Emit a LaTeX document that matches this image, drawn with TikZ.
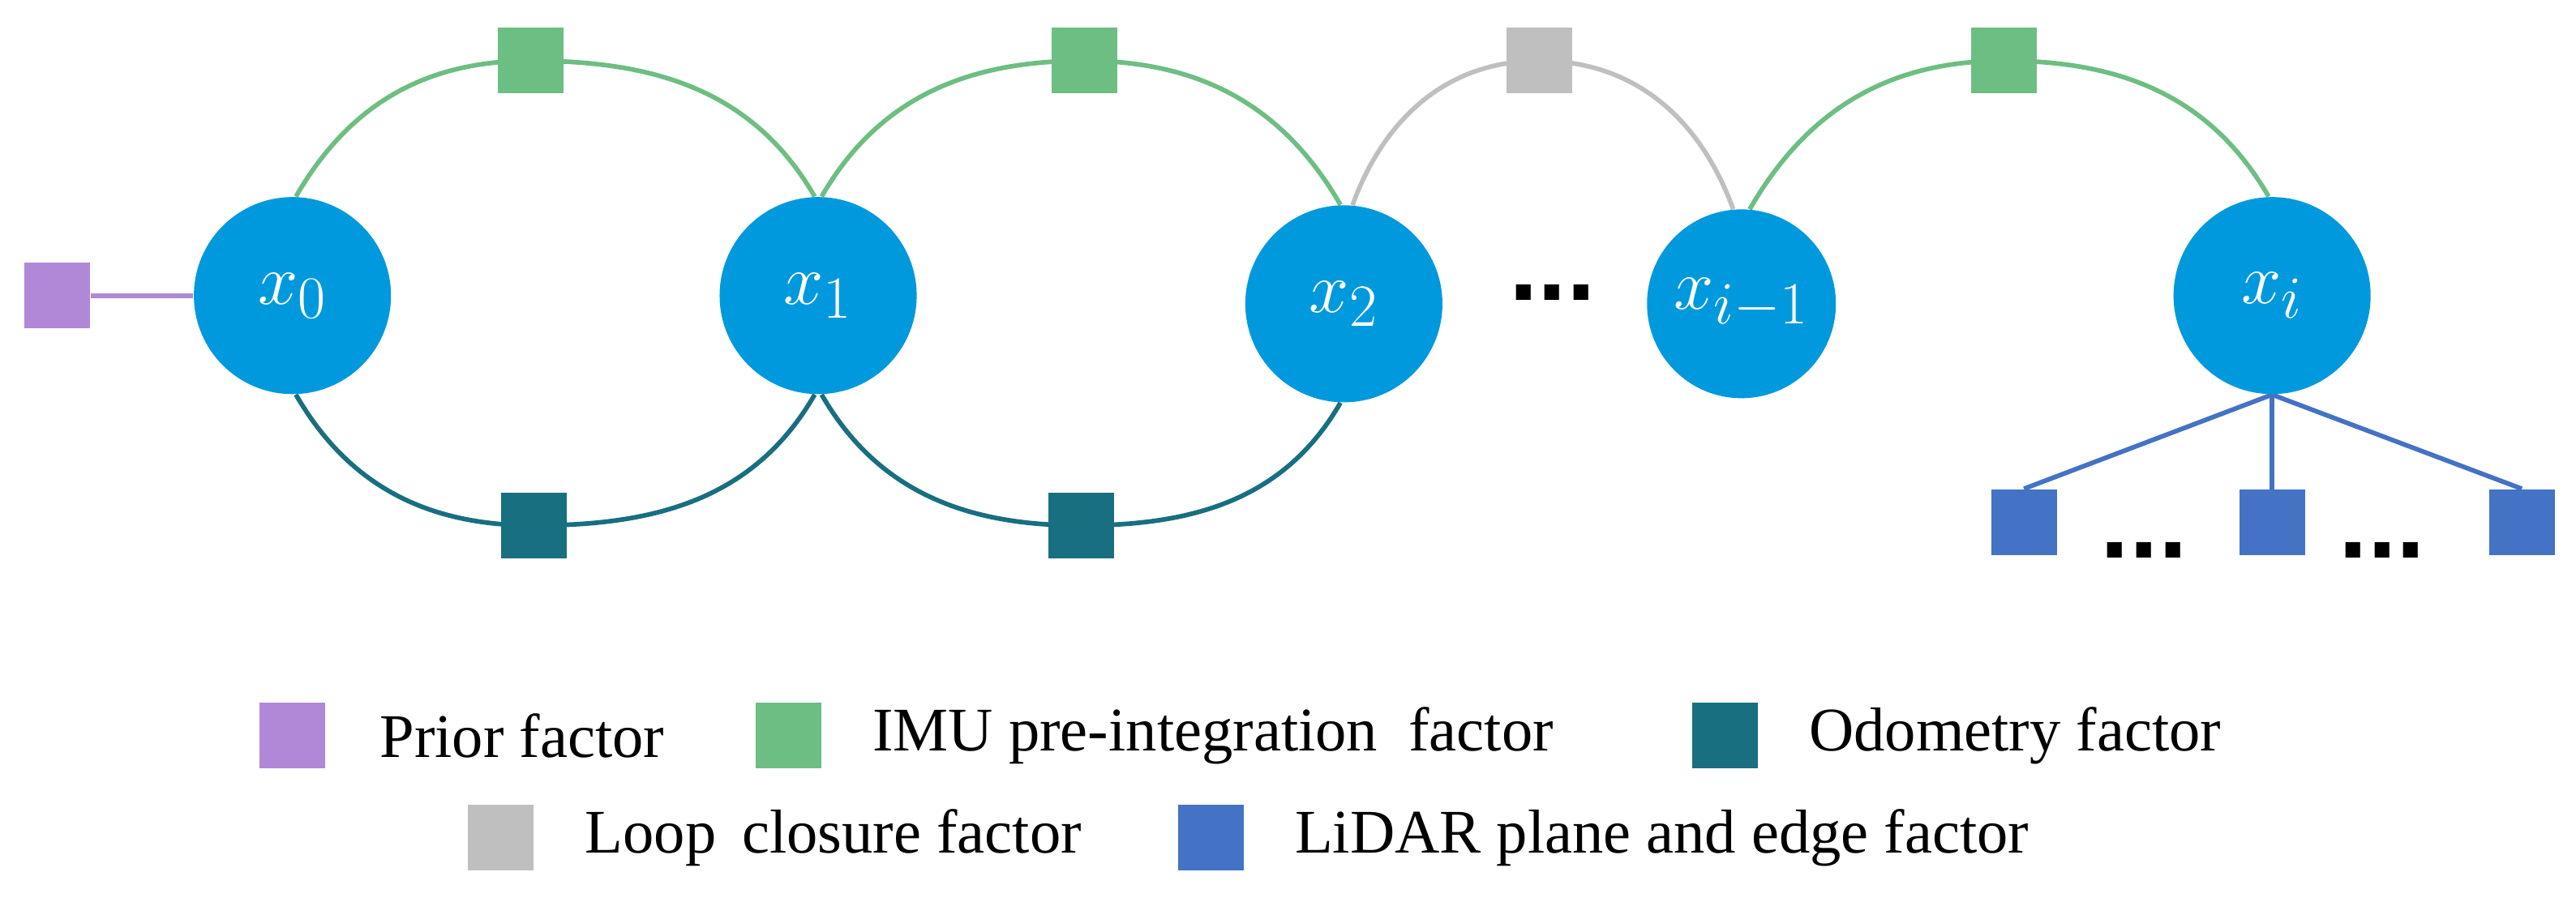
\documentclass[tikz,border=0pt]{standalone}
\usepackage{fontspec}
\setmainfont{Liberation Serif}
\newfontfamily\dotsfont{Liberation Sans}
\usetikzlibrary{positioning,backgrounds}
\definecolor{priorc}{HTML}{B088D8}
\definecolor{imuc}{HTML}{6DBE82}
\definecolor{odoc}{HTML}{176F80}
\definecolor{loopc}{HTML}{BFBFBF}
\definecolor{lidarc}{HTML}{4472C4}
\definecolor{statec}{HTML}{0099DD}
\begin{document}
\begin{tikzpicture}[x=0.02cm,y=-0.02cm,
    state/.style={circle,fill=statec,minimum size=2.4cm,inner sep=0pt,text=white,font=\fontsize{28}{32}\selectfont},
    factor/.style={rectangle,fill=#1,minimum size=0.8cm,inner sep=0pt},
    edge/.style={line width=1.6pt,#1},
    ell/.style={font=\dotsfont\bfseries\fontsize{36}{40}\selectfont},
    legend/.style={right,font=\fontsize{21.5}{25}\selectfont}]
    \useasboundingbox (0,0) rectangle (1568,549);

    % State nodes
    \node[state] (x0) at (178,180) {$x_0$};
    \node[state] (x1) at (498,180) {$x_1$};
    \node[state] (x2) at (818,185) {$x_2$};
    \node[state,minimum size=2.3cm] (xim) at (1060,185) {$x_{i-1}$};
    \node[state] (xi) at (1383,180) {$x_i$};
    \node[ell] (dots) at (945,178) {...};

    % Factors
    \node[factor=priorc] (p0) at (35,180) {};
    \node[factor=imuc] (g1) at (323,37) {};
    \node[factor=imuc] (g2) at (660,37) {};
    \node[factor=loopc] (l1) at (937,37) {};
    \node[factor=imuc] (g3) at (1220,37) {};
    \node[factor=odoc] (o1) at (325,320) {};
    \node[factor=odoc] (o2) at (658,320) {};
    \node[factor=lidarc] (f1) at (1232,318) {};
    \node[factor=lidarc] (f2) at (1383,318) {};
    \node[factor=lidarc] (f3) at (1535,318) {};
    \node[ell] (d1) at (1305,335) {...};
    \node[ell] (d2) at (1450,335) {...};

    \begin{scope}[on background layer]
        \draw[edge=priorc] (p0) -- (x0);
        \draw[edge=imuc] (x0.88) to[out=60,in=180] (g1.center) to[out=0,in=120] (x1.92);
        \draw[edge=imuc] (x1.88) to[out=60,in=180] (g2.center) to[out=0,in=120] (x2.92);
        \draw[edge=loopc] (x2.85) to[out=70,in=180] (l1.center) to[out=0,in=110] (xim.95);
        \draw[edge=imuc] (xim.85) to[out=60,in=180] (g3.center) to[out=0,in=120] (xi.92);
        \draw[edge=odoc] (x0.-88) to[out=-60,in=180] (o1.center) to[out=0,in=-120] (x1.-92);
        \draw[edge=odoc] (x1.-88) to[out=-60,in=180] (o2.center) to[out=0,in=-120] (x2.-92);
        \draw[edge=lidarc] (xi.south) -- (f1.north);
        \draw[edge=lidarc] (xi.south) -- (f2.center);
        \draw[edge=lidarc] (xi.south) -- (f3.north);
    \end{scope}

    % Legend
    \node[factor=priorc] (lp) at (178,448) {};
    \node[legend] at (225,448) {Prior factor};
    \node[factor=imuc] (lg) at (480,448) {};
    \node[legend] at (525,448) {IMU pre-integration\enspace factor};
    \node[factor=odoc] (lo) at (1050,448) {};
    \node[legend] at (1095,448) {Odometry factor};
    \node[factor=loopc] (ll) at (305,510) {};
    \node[legend] at (350,510) {Loop\, closure factor};
    \node[factor=lidarc] (lf) at (737,510) {};
    \node[legend] at (782,510) {LiDAR plane and edge factor};
\end{tikzpicture}
\end{document}
